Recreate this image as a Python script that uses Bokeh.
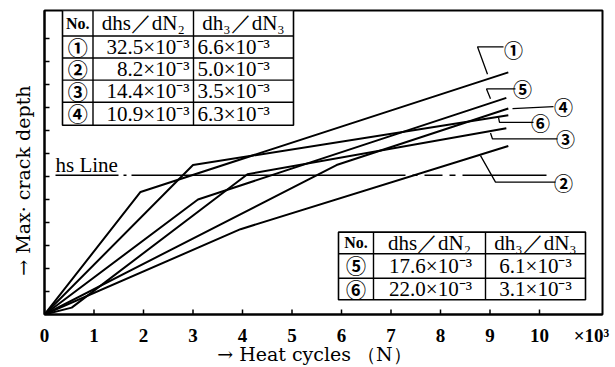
import math
from bokeh.plotting import figure
from bokeh.models import Range1d, FixedTicker
from bokeh.embed import file_html
from bokeh.resources import INLINE
from bokeh.core.properties import value

# ---------------- data ----------------
cycles_1 = [0, 1.94, 9.37]
depth_1 = [0, 5.33, 10.53]
cycles_2 = [0, 3.96, 9.37]
depth_2 = [0, 3.71, 7.33]
cycles_3 = [0, 0.55, 4.1, 9.33]
depth_3 = [0, 0.3, 6.1, 8.10]
cycles_4 = [0, 5.9, 9.37]
depth_4 = [0, 6.5, 8.96]
cycles_5 = [0, 3.1, 9.33]
depth_5 = [0, 5.0, 9.42]
cycles_6 = [0, 3.0, 9.37]
depth_6 = [0, 6.5, 8.66]

hs_level = 6.06
x_ticks = [0, 1, 2, 3, 4, 5, 6, 7, 8, 9, 10]
y_ticks = [1, 2, 3, 4, 5, 6, 7, 8, 9, 10, 11, 12]
x_multiplier = "×10³"

headers = ["No.", "dhs／dN₂", "dh₃／dN₃"]
table1_no = ["①", "②", "③", "④"]
table1_s2 = ["32.5×10⁻³", "8.2×10⁻³", "14.4×10⁻³", "10.9×10⁻³"]
table1_s3 = ["6.6×10⁻³", "5.0×10⁻³", "3.5×10⁻³", "6.3×10⁻³"]
table2_no = ["⑤", "⑥"]
table2_s2 = ["17.6×10⁻³", "22.0×10⁻³"]
table2_s3 = ["6.1×10⁻³", "3.1×10⁻³"]

# ---------------- layout helpers (pixel -> data) ----------------
def dx(px):
    return (px - 44) / 49.5

def dy(py):
    return (320 - py) / 23.45

SERIF = "Liberation Serif"
LABEL_FONT = "DejaVu Serif"
CJK = "Noto Sans CJK JP"

p = figure(width=615, height=367, output_backend="svg", toolbar_location=None,
           x_range=Range1d(0, dx(602)), y_range=Range1d(0, dy(10)),
           min_border_left=44, min_border_right=13, min_border_top=10,
           min_border_bottom=47)
p.background_fill_color = "white"
p.border_fill_color = "white"
p.grid.visible = False
p.outline_line_color = "black"
p.outline_line_width = 2

mult_pos = dx(591)
p.xaxis.ticker = FixedTicker(ticks=x_ticks + [mult_pos])
p.xaxis.major_label_overrides = {mult_pos: x_multiplier}
p.yaxis.ticker = FixedTicker(ticks=[])
for ax in (p.xaxis, p.yaxis):
    ax.axis_line_width = 2
    ax.axis_line_color = "black"
    ax.major_tick_line_color = None
    ax.minor_tick_line_color = None
    ax.axis_label_text_font = LABEL_FONT
    ax.axis_label_text_font_size = "19px"
    ax.axis_label_text_font_style = "normal"
    ax.axis_label_text_color = "black"
p.xaxis.major_label_text_font = SERIF
p.xaxis.major_label_text_font_size = "19px"
p.xaxis.major_label_text_font_style = "bold"
p.xaxis.major_label_text_color = "black"
p.xaxis.major_label_standoff = 4
p.xaxis.axis_label = "→  Heat cycles （N）\u00a0\u00a0"
p.xaxis.axis_label_standoff = -6
p.yaxis.axis_label = "→  Max· crack depth\u00a0\u00a0\u00a0\u00a0\u00a0"
p.yaxis.axis_label_standoff = 11

# inward tick marks
p.segment(x0=x_ticks, y0=[0] * len(x_ticks), x1=x_ticks, y1=[5 / 23.45] * len(x_ticks),
          line_color="black", line_width=1.5)
p.segment(x0=[0] * len(y_ticks), y0=y_ticks, x1=[5 / 49.5] * len(y_ticks), y1=y_ticks,
          line_color="black", line_width=1.5)

# curves
for xs, ys in [(cycles_1, depth_1), (cycles_2, depth_2), (cycles_3, depth_3),
               (cycles_4, depth_4), (cycles_5, depth_5), (cycles_6, depth_6)]:
    p.line(xs, ys, line_color="black", line_width=2)

# hs line
p.line([dx(55), dx(546)], [hs_level, hs_level], line_color="black",
       line_width=1.5, line_dash="63 5 3 5 274 7 5 7 18 7 6 7 84")
p.text([dx(55)], [hs_level - 0.1], text=["hs Line"], text_font=value(SERIF),
       text_font_size="21px", text_align="left", text_baseline="bottom",
       text_color="black")

# leader lines and circled labels
leaders = [
    ([487, 477, 503], [75, 47, 47], "①", 513, 50),
    ([490, 486, 515], [100, 90, 90], "⑤", 522, 90),
    ([512, 553], [110, 108], "④", 563, 108),
    ([498, 499, 533], [119, 124, 124], "⑥", 540, 124),
    ([490, 492, 557], [135, 141, 141], "③", 565, 141),
    ([480, 495, 555], [158, 185, 185], "②", 563, 185),
]
for lx, ly, t, tx, ty in leaders:
    p.line([dx(v) for v in lx], [dy(v) for v in ly], line_color="black", line_width=1.3)
    p.text([dx(tx)], [dy(ty)], text=[t], text_font=value(CJK), text_font_size="19px",
           text_font_style="bold", text_align="center", text_baseline="middle",
           text_color="black")

def draw_table(cols, rows, nos, s2, s3, col2_align, col3_align):
    p.quad(left=[dx(cols[0])], right=[dx(cols[-1])], top=[dy(rows[0])],
           bottom=[dy(rows[-1])], fill_color="white", line_color="black", line_width=1.6)
    for c in cols[1:-1]:
        p.segment(x0=[dx(c)], y0=[dy(rows[0])], x1=[dx(c)], y1=[dy(rows[-1])],
                  line_color="black", line_width=1.4)
    for r in rows[1:-1]:
        p.segment(x0=[dx(cols[0])], y0=[dy(r)], x1=[dx(cols[-1])], y1=[dy(r)],
                  line_color="black", line_width=1.4)
    centers = [(cols[i] + cols[i + 1]) / 2 for i in range(3)]
    hy = (rows[0] + rows[1]) / 2
    p.text([dx(centers[0])], [dy(hy)], text=[headers[0]], text_font=value(SERIF),
           text_font_size="16px", text_font_style="bold", text_align="center",
           text_baseline="middle", text_color="black")
    for i in (1, 2):
        p.text([dx(centers[i])], [dy(hy)], text=[headers[i]], text_font=value(SERIF),
               text_font_size="21px", text_align="center", text_baseline="middle",
               text_color="black")
    for k in range(len(nos)):
        ry = (rows[k + 1] + rows[k + 2]) / 2
        p.text([dx(centers[0])], [dy(ry)], text=[nos[k]], text_font=value(CJK),
               text_font_size="20px", text_font_style="bold", text_align="center",
               text_baseline="middle", text_color="black")
        ax2, al2 = col2_align
        p.text([dx(ax2)], [dy(ry)], text=[s2[k]], text_font=value(SERIF),
               text_font_size="21px", text_align=al2, text_baseline="middle",
               text_color="black")
        ax3, al3 = col3_align
        p.text([dx(ax3)], [dy(ry)], text=[s3[k]], text_font=value(SERIF),
               text_font_size="21px", text_align=al3, text_baseline="middle",
               text_color="black")

draw_table([62, 92.5, 193, 293], [10, 36, 58.5, 81, 103.5, 127],
           table1_no, table1_s2, table1_s3, (189, "right"), (197, "left"))
draw_table([338, 373, 485, 585], [236, 258, 283, 305],
           table2_no, table2_s2, table2_s3, (430, "center"), (535, "center"))

open("out.html", "w").write(file_html(p, INLINE))
